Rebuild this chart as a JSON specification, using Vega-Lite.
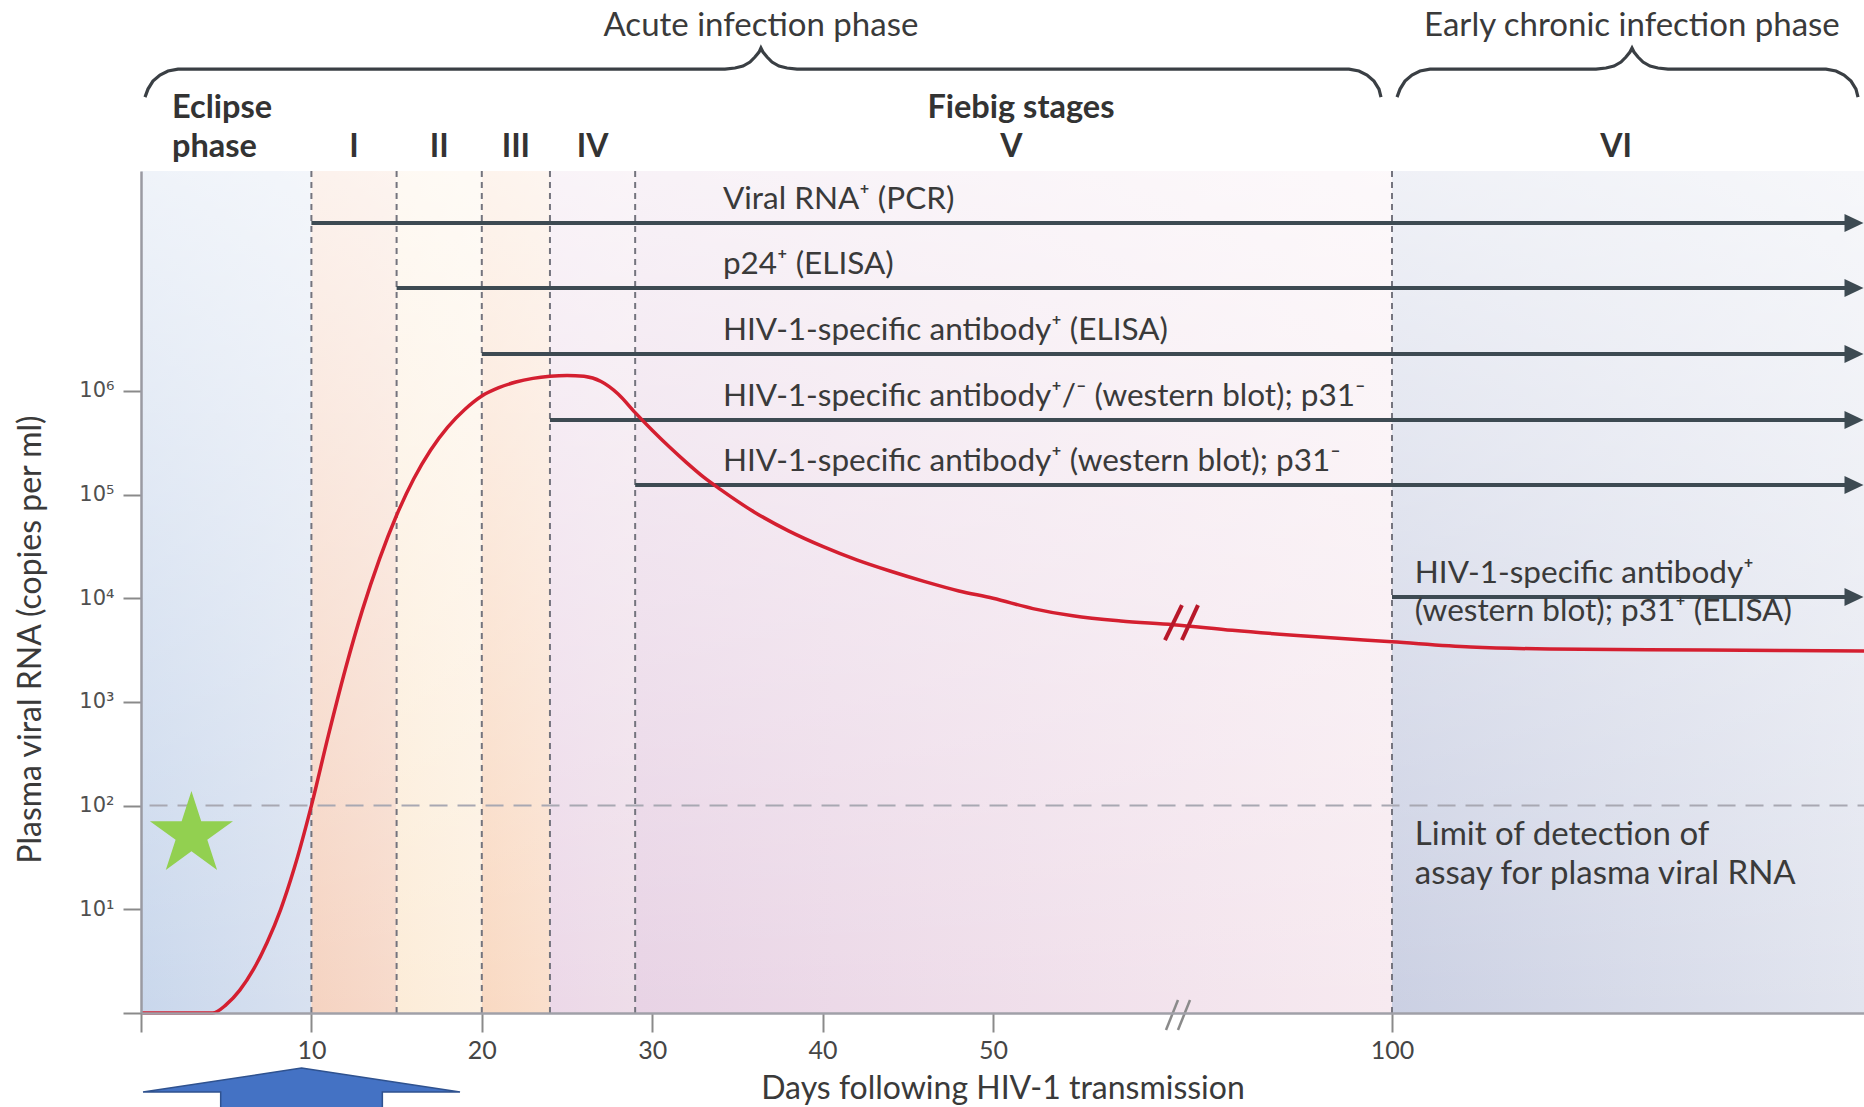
{
  "$schema": "https://vega.github.io/schema/vega-lite/v6.json",
  "width": 1723,
  "height": 842,
  "autosize": {"type": "none"},
  "padding": {"left": 141, "top": 171, "right": 0, "bottom": 94},
  "background": "white",
  "config": {"view": {"stroke": null}, "axis": {"grid": false}, "font": "Lato"},
  "datasets": {
    "bands": [
      {"stage": "Eclipse", "start": 0, "end": 10},
      {"stage": "I", "start": 10, "end": 15},
      {"stage": "II", "start": 15, "end": 20},
      {"stage": "III", "start": 20, "end": 24},
      {"stage": "IV", "start": 24, "end": 29},
      {"stage": "V", "start": 29, "end": 100},
      {"stage": "VI", "start": 100, "end": 160}
    ],
    "boundaries": [{"day": 10}, {"day": 15}, {"day": 20}, {"day": 24}, {"day": 29}, {"day": 100}],
    "curve": [
      {"day": 0, "log10": 0}, {"day": 4.2, "log10": 0}, {"day": 5.0, "log10": 0.08}, {"day": 5.8, "log10": 0.22},
      {"day": 6.6, "log10": 0.42}, {"day": 7.4, "log10": 0.68}, {"day": 8.2, "log10": 1.0}, {"day": 9.0, "log10": 1.4},
      {"day": 10, "log10": 2.0}, {"day": 11, "log10": 2.68}, {"day": 12, "log10": 3.32}, {"day": 13, "log10": 3.89},
      {"day": 14, "log10": 4.38}, {"day": 15, "log10": 4.8}, {"day": 16, "log10": 5.15}, {"day": 17, "log10": 5.43},
      {"day": 18, "log10": 5.65}, {"day": 19, "log10": 5.82}, {"day": 20, "log10": 5.95}, {"day": 21, "log10": 6.03},
      {"day": 22, "log10": 6.085}, {"day": 23, "log10": 6.12}, {"day": 24, "log10": 6.14}, {"day": 25, "log10": 6.148},
      {"day": 26, "log10": 6.14}, {"day": 27, "log10": 6.09}, {"day": 28, "log10": 5.97}, {"day": 29, "log10": 5.79},
      {"day": 30, "log10": 5.62}, {"day": 31, "log10": 5.46}, {"day": 32, "log10": 5.31}, {"day": 33, "log10": 5.17},
      {"day": 34, "log10": 5.05}, {"day": 36, "log10": 4.83},
      {"day": 38.0, "log10": 4.65}, {"day": 40.0, "log10": 4.5}, {"day": 42.0, "log10": 4.37}, {"day": 44.0, "log10": 4.26},
      {"day": 46.0, "log10": 4.16}, {"day": 48.0, "log10": 4.07}, {"day": 50.0, "log10": 4.0}, {"day": 55, "log10": 3.9},
      {"day": 60, "log10": 3.83}, {"day": 66, "log10": 3.78}, {"day": 72.6, "log10": 3.745}, {"day": 80, "log10": 3.69},
      {"day": 90, "log10": 3.63}, {"day": 100, "log10": 3.58}, {"day": 110, "log10": 3.53}, {"day": 120, "log10": 3.51},
      {"day": 140, "log10": 3.5}, {"day": 160, "log10": 3.49}
    ],
    "assays": [
      {"label": "Viral RNA⁺ (PCR)", "start": 10, "level": 7.618, "labelDay": 34.15},
      {"label": "p24⁺ (ELISA)", "start": 15, "level": 6.991, "labelDay": 34.15},
      {"label": "HIV-1-specific antibody⁺ (ELISA)", "start": 20, "level": 6.355, "labelDay": 34.15},
      {"label": "HIV-1-specific antibody⁺/⁻ (western blot); p31⁻", "start": 24, "level": 5.718, "labelDay": 34.15},
      {"label": "HIV-1-specific antibody⁺ (western blot); p31⁻", "start": 29, "level": 5.092, "labelDay": 34.15},
      {"label": "HIV-1-specific antibody⁺\n(western blot); p31⁺ (ELISA)", "start": 100, "level": 4.012, "labelDay": 102.9}
    ],
    "stageLabels": [
      {"label": "I", "day": 12.5}, {"label": "II", "day": 17.5}, {"label": "III", "day": 22},
      {"label": "IV", "day": 26.5}, {"label": "V", "day": 52.3}, {"label": "VI", "day": 128.5}
    ],
    "upperLabels": [
      {"label": "Eclipse", "day": 1.82, "level": 8.727, "anchor": "left"},
      {"label": "phase", "day": 1.82, "level": 8.351, "anchor": "left"},
      {"label": "Fiebig stages", "day": 53.5, "level": 8.727, "anchor": "center"}
    ],
    "phases": [
      {"label": "Acute infection phase", "day": 36.38, "level": 9.518},
      {"label": "Early chronic infection phase", "day": 130.5, "level": 9.518}
    ],
    "braces": [
      {"brace": "acute", "day": 0.235, "log10": 8.833}, {"brace": "acute", "day": 0.41, "log10": 8.91},
      {"brace": "acute", "day": 0.70, "log10": 8.987}, {"brace": "acute", "day": 1.115, "log10": 9.045},
      {"brace": "acute", "day": 1.585, "log10": 9.084}, {"brace": "acute", "day": 2.17, "log10": 9.103},
      {"brace": "acute", "day": 34.27, "log10": 9.103}, {"brace": "acute", "day": 34.86, "log10": 9.113},
      {"brace": "acute", "day": 35.33, "log10": 9.132}, {"brace": "acute", "day": 35.74, "log10": 9.171},
      {"brace": "acute", "day": 36.03, "log10": 9.219}, {"brace": "acute", "day": 36.27, "log10": 9.267},
      {"brace": "acute", "day": 36.38, "log10": 9.306}, {"brace": "acute", "day": 36.50, "log10": 9.267},
      {"brace": "acute", "day": 36.74, "log10": 9.219}, {"brace": "acute", "day": 37.03, "log10": 9.171},
      {"brace": "acute", "day": 37.44, "log10": 9.132}, {"brace": "acute", "day": 37.91, "log10": 9.113},
      {"brace": "acute", "day": 38.50, "log10": 9.103}, {"brace": "acute", "day": 94.61, "log10": 9.103},
      {"brace": "acute", "day": 95.86, "log10": 9.084}, {"brace": "acute", "day": 96.87, "log10": 9.045},
      {"brace": "acute", "day": 97.74, "log10": 8.987}, {"brace": "acute", "day": 98.37, "log10": 8.91},
      {"brace": "acute", "day": 98.62, "log10": 8.833},
      {"brace": "chronic", "day": 100.64, "log10": 8.833}, {"brace": "chronic", "day": 101.02, "log10": 8.91},
      {"brace": "chronic", "day": 101.65, "log10": 8.987}, {"brace": "chronic", "day": 102.54, "log10": 9.045},
      {"brace": "chronic", "day": 103.56, "log10": 9.084}, {"brace": "chronic", "day": 104.83, "log10": 9.103},
      {"brace": "chronic", "day": 125.93, "log10": 9.103}, {"brace": "chronic", "day": 127.2, "log10": 9.113},
      {"brace": "chronic", "day": 128.22, "log10": 9.132}, {"brace": "chronic", "day": 129.11, "log10": 9.171},
      {"brace": "chronic", "day": 129.74, "log10": 9.219}, {"brace": "chronic", "day": 130.25, "log10": 9.267},
      {"brace": "chronic", "day": 130.51, "log10": 9.306}, {"brace": "chronic", "day": 130.76, "log10": 9.267},
      {"brace": "chronic", "day": 131.27, "log10": 9.219}, {"brace": "chronic", "day": 131.91, "log10": 9.171},
      {"brace": "chronic", "day": 132.8, "log10": 9.132}, {"brace": "chronic", "day": 133.81, "log10": 9.113},
      {"brace": "chronic", "day": 135.08, "log10": 9.103}, {"brace": "chronic", "day": 155.17, "log10": 9.103},
      {"brace": "chronic", "day": 156.44, "log10": 9.084}, {"brace": "chronic", "day": 157.46, "log10": 9.045},
      {"brace": "chronic", "day": 158.35, "log10": 8.987}, {"brace": "chronic", "day": 158.98, "log10": 8.91},
      {"brace": "chronic", "day": 159.24, "log10": 8.833}
    ],
    "curveBreak": [
      {"d1": 71.55, "d2": 73.68, "l1": 3.597, "l2": 3.934},
      {"d1": 73.68, "d2": 75.69, "l1": 3.597, "l2": 3.934}
    ],
    "axisBreak": [
      {"d1": 71.68, "d2": 73.18, "l1": -0.164, "l2": 0.125},
      {"d1": 73.18, "d2": 74.69, "l1": -0.164, "l2": 0.125}
    ],
    "star": [{"day": 2.96, "log10": 1.72}],
    "pointer": [{"day": 9.42, "log10": -2.06}]
  },
  "layer": [
    {
      "data": {"name": "bands"},
      "encoding": {
        "x": {
          "field": "start", "type": "quantitative",
          "scale": {"domain": [0, 50, 100, 160], "range": [0, 852, 1251, 1723], "nice": false, "zero": false},
          "axis": {
            "title": "Days following HIV-1 transmission", "values": [0, 10, 20, 30, 40, 50, 100],
            "labelExpr": "datum.value == 0 ? '' : datum.label", "tickSize": 19, "tickColor": "#8a8a8a", "tickWidth": 2,
            "domainColor": "#a0a0a8", "domainWidth": 2.5, "labelFontSize": 25, "labelColor": "#454545", "labelPadding": 6,
            "labelFlush": false, "labelOverlap": false, "titleFontSize": 32, "titleFontWeight": "normal", "titleColor": "#3a3a3a",
            "titleBaseline": "alphabetic", "titleY": 85, "zindex": 1
          }
        },
        "x2": {"field": "end"},
        "y": {
          "datum": 0, "type": "quantitative",
          "scale": {"domain": [0, 8.12], "nice": false, "zero": false},
          "axis": {
            "title": "Plasma viral RNA (copies per ml)", "values": [0, 1, 2, 3, 4, 5, 6],
            "labelExpr": "datum.value == 0 ? '' : '10' + ['', '¹', '²', '³', '⁴', '⁵', '⁶'][datum.value]",
            "tickSize": 18, "tickColor": "#8a8a8a", "tickWidth": 2, "domainColor": "#9a9aa2", "domainWidth": 2.5,
            "labelFont": "DejaVu Sans", "labelFontSize": 21, "labelColor": "#505050", "labelPadding": 9,
            "titleFontSize": 32, "titleFontWeight": "normal",
            "titleColor": "#3a3a3a", "titleX": -111, "titleY": 468, "titleBaseline": "middle", "zindex": 1
          }
        },
        "y2": {"datum": 8.12}
      },
      "layer": [
        {"transform": [{"filter": "datum.stage == 'Eclipse'"}], "mark": {"type": "rect", "fill": {"gradient": "linear", "x1": 0, "y1": 0, "x2": 1, "y2": 0, "stops": [{"offset": 0, "color": "#c9d7ec"}, {"offset": 1, "color": "#d8e1f0"}]}}},
        {"transform": [{"filter": "datum.stage == 'I'"}], "mark": {"type": "rect", "fill": {"gradient": "linear", "x1": 0, "y1": 0, "x2": 1, "y2": 0, "stops": [{"offset": 0, "color": "#f5d3c1"}, {"offset": 1, "color": "#f7dacb"}]}}},
        {"transform": [{"filter": "datum.stage == 'II'"}], "mark": {"type": "rect", "fill": {"gradient": "linear", "x1": 0, "y1": 0, "x2": 1, "y2": 0, "stops": [{"offset": 0, "color": "#fcecd8"}, {"offset": 1, "color": "#fdf0e0"}]}}},
        {"transform": [{"filter": "datum.stage == 'III'"}], "mark": {"type": "rect", "fill": {"gradient": "linear", "x1": 0, "y1": 0, "x2": 1, "y2": 0, "stops": [{"offset": 0, "color": "#f9d9c2"}, {"offset": 1, "color": "#fadfcc"}]}}},
        {"transform": [{"filter": "datum.stage == 'IV'"}], "mark": {"type": "rect", "fill": {"gradient": "linear", "x1": 0, "y1": 0, "x2": 1, "y2": 0, "stops": [{"offset": 0, "color": "#ecd8e8"}, {"offset": 1, "color": "#eedde9"}]}}},
        {"transform": [{"filter": "datum.stage == 'V'"}], "mark": {"type": "rect", "fill": {"gradient": "linear", "x1": 0, "y1": 0, "x2": 1, "y2": 0, "stops": [{"offset": 0, "color": "#e8d3e5"}, {"offset": 1, "color": "#f7eaf0"}]}}},
        {"transform": [{"filter": "datum.stage == 'VI'"}], "mark": {"type": "rect", "fill": {"gradient": "linear", "x1": 0, "y1": 0, "x2": 1, "y2": 0, "stops": [{"offset": 0, "color": "#cbd0e3"}, {"offset": 1, "color": "#e2e5ef"}]}}},
        {
          "transform": [{"aggregate": [{"op": "min", "field": "start", "as": "start"}, {"op": "max", "field": "end", "as": "end"}]}],
          "mark": {"type": "rect", "fill": {"gradient": "linear", "x1": 0, "y1": 0, "x2": 0, "y2": 1, "stops": [{"offset": 0, "color": "rgba(255,255,255,0.7)"}, {"offset": 1, "color": "rgba(255,255,255,0)"}]}}
        }
      ]
    },
    {
      "data": {"name": "boundaries"},
      "mark": {"type": "rule", "color": "#74747e", "strokeWidth": 2, "strokeDash": [6, 5]},
      "encoding": {"x": {"field": "day", "type": "quantitative"}, "y": {"datum": 0}, "y2": {"datum": 8.12}}
    },
    {
      "data": {"values": [{"level": 2}]},
      "mark": {"type": "rule", "color": "#a8a8b2", "strokeWidth": 2, "strokeDash": [18, 10]},
      "encoding": {"x": {"datum": 0.5}, "x2": {"datum": 160}, "y": {"field": "level", "type": "quantitative"}}
    },
    {
      "data": {"name": "assays"},
      "layer": [
        {
          "mark": {"type": "rule", "color": "#3d4a52", "strokeWidth": 4},
          "encoding": {"x": {"field": "start", "type": "quantitative"}, "x2": {"datum": 157.84}, "y": {"field": "level", "type": "quantitative"}}
        },
        {
          "mark": {"type": "point", "shape": "M1,0L-1,-0.95L-1,0.95Z", "size": 360, "filled": true, "opacity": 1, "color": "#3d4a52"},
          "encoding": {"x": {"datum": 158.73}, "y": {"field": "level", "type": "quantitative"}}
        },
        {
          "mark": {"type": "text", "align": "left", "baseline": "bottom", "dy": -7, "fontSize": 31.5, "color": "#3a3a3a", "lineBreak": "\n", "lineHeight": 38},
          "encoding": {"x": {"field": "labelDay", "type": "quantitative"}, "y": {"field": "level", "type": "quantitative"}, "text": {"field": "label"}}
        }
      ]
    },
    {
      "data": {"values": [{"label": "Limit of detection of\nassay for plasma viral RNA", "day": 102.9, "level": 2}]},
      "mark": {"type": "text", "align": "left", "baseline": "top", "dy": 13, "fontSize": 33, "color": "#3a3a3a", "lineBreak": "\n", "lineHeight": 39},
      "encoding": {"x": {"field": "day", "type": "quantitative"}, "y": {"field": "level", "type": "quantitative"}, "text": {"field": "label"}}
    },
    {
      "data": {"name": "curve"},
      "mark": {"type": "line", "color": "#d41f30", "strokeWidth": 3.5, "interpolate": "monotone"},
      "encoding": {"x": {"field": "day", "type": "quantitative"}, "y": {"field": "log10", "type": "quantitative"}}
    },
    {
      "data": {"name": "curveBreak"},
      "mark": {"type": "rule", "color": "#b8182a", "strokeWidth": 4},
      "encoding": {"x": {"field": "d1", "type": "quantitative"}, "x2": {"field": "d2"}, "y": {"field": "l1", "type": "quantitative"}, "y2": {"field": "l2"}}
    },
    {
      "data": {"name": "axisBreak"},
      "mark": {"type": "rule", "color": "#8a8a8a", "strokeWidth": 2.5},
      "encoding": {"x": {"field": "d1", "type": "quantitative"}, "x2": {"field": "d2"}, "y": {"field": "l1", "type": "quantitative"}, "y2": {"field": "l2"}}
    },
    {
      "data": {"name": "star"},
      "mark": {"type": "point", "shape": "M0,-1L0.2245,-0.309L0.951,-0.309L0.363,0.118L0.588,0.809L0,0.382L-0.588,0.809L-0.363,0.118L-0.951,-0.309L-0.2245,-0.309Z", "size": 7620, "filled": true, "opacity": 1, "color": "#92d050"},
      "encoding": {"x": {"field": "day", "type": "quantitative"}, "y": {"field": "log10", "type": "quantitative"}}
    },
    {
      "data": {"name": "pointer"},
      "mark": {"type": "point", "shape": "M0,-1L1,-0.85L0.51,-0.85L0.51,1L-0.51,1L-0.51,-0.85L-1,-0.85Z", "size": 100489, "filled": true, "opacity": 1, "fill": "#4472c4", "stroke": "#2f528f", "strokeWidth": 1.5},
      "encoding": {"x": {"field": "day", "type": "quantitative"}, "y": {"field": "log10", "type": "quantitative"}}
    },
    {
      "data": {"name": "stageLabels"},
      "mark": {"type": "text", "align": "center", "baseline": "middle", "fontSize": 32, "fontWeight": "bold", "color": "#333333"},
      "encoding": {"x": {"field": "day", "type": "quantitative"}, "y": {"datum": 8.351}, "text": {"field": "label"}}
    },
    {
      "data": {"name": "upperLabels"},
      "transform": [{"filter": "datum.anchor == 'left'"}],
      "mark": {"type": "text", "align": "left", "baseline": "middle", "fontSize": 32.5, "fontWeight": "bold", "color": "#333333"},
      "encoding": {"x": {"field": "day", "type": "quantitative"}, "y": {"field": "level", "type": "quantitative"}, "text": {"field": "label"}}
    },
    {
      "data": {"name": "upperLabels"},
      "transform": [{"filter": "datum.anchor == 'center'"}],
      "mark": {"type": "text", "align": "center", "baseline": "middle", "fontSize": 32.5, "fontWeight": "bold", "color": "#333333"},
      "encoding": {"x": {"field": "day", "type": "quantitative"}, "y": {"field": "level", "type": "quantitative"}, "text": {"field": "label"}}
    },
    {
      "data": {"name": "phases"},
      "mark": {"type": "text", "align": "center", "baseline": "middle", "fontSize": 33, "color": "#3a3a3a"},
      "encoding": {"x": {"field": "day", "type": "quantitative"}, "y": {"field": "level", "type": "quantitative"}, "text": {"field": "label"}}
    },
    {
      "data": {"name": "braces"},
      "mark": {"type": "line", "color": "#3a3f44", "strokeWidth": 3.2, "interpolate": "linear"},
      "encoding": {"x": {"field": "day", "type": "quantitative"}, "y": {"field": "log10", "type": "quantitative"}, "detail": {"field": "brace"}}
    }
  ]
}
